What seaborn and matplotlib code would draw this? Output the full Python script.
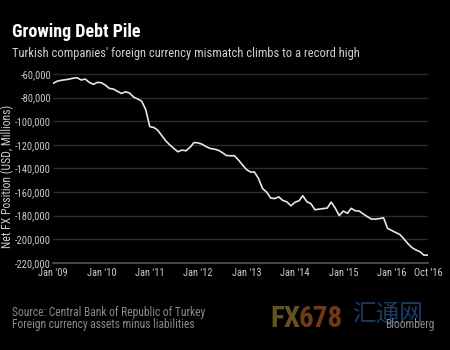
import pandas as pd
import numpy as np
import seaborn as sns
import matplotlib.pyplot as plt
from matplotlib.ticker import FuncFormatter

# monthly net FX position, Jan 2009 - Oct 2016 (USD millions)
start_month = '2009-01-01'
net_fx = [
    -67900, -66000, -65300, -64800, -64300, -63500, -63100, -65000, -64200, -67000,
    -68700, -67000, -67300, -69500, -72100, -72700, -74500, -76400, -75000, -76000,
    -79500, -81000, -83000, -90000, -104500, -105300, -107500, -112000, -116500, -120000,
    -123000, -125800, -124400, -125000, -122000, -118000, -118300, -119500, -121500, -123000,
    -123600, -124500, -126500, -129000, -129200, -129200, -132900, -137000, -141000, -143000,
    -143000, -148500, -157000, -160000, -165000, -165500, -164100, -167100, -168300, -171600,
    -168700, -167300, -163100, -168200, -169800, -175000, -174500, -174000, -173600, -168500,
    -173600, -179900, -176100, -178000, -173800, -175800, -176100, -178600, -180800, -182900,
    -182900, -182500, -181800, -190800, -192500, -194300, -195800, -199500, -203500, -207000,
    -209000, -210500, -213500, -213400,
]
y_ticks = [-60000, -80000, -100000, -120000, -140000, -160000, -180000, -200000, -220000]
x_tick_dates = ['2009-01-01', '2010-01-01', '2011-01-01', '2012-01-01', '2013-01-01',
                '2014-01-01', '2015-01-01', '2016-01-01', '2016-10-01']
x_tick_labels = ["Jan '09", "Jan '10", "Jan '11", "Jan '12", "Jan '13",
                 "Jan '14", "Jan '15", "Jan '16", "Oct '16"]

df = pd.DataFrame({
    'date': pd.date_range(start_month, periods=len(net_fx), freq='MS'),
    'value': net_fx,
})

sns.set_style('dark')
plt.rcParams['font.family'] = ['Roboto Condensed', 'DejaVu Sans']

fig = plt.figure(figsize=(4.5, 3.5), dpi=100, facecolor='black')
ax = fig.add_axes([0.118, 0.249, 0.833, 0.546], facecolor='black')

sns.lineplot(data=df, x='date', y='value', ax=ax, color='#e6e6e6', linewidth=1.2)

ax.set_ylim(-220000, -58000)
ax.set_xlim(pd.Timestamp('2009-01-01'), pd.Timestamp('2016-10-01'))
ax.set_yticks(y_ticks)
ax.yaxis.set_major_formatter(FuncFormatter(lambda v, p: f'{int(v):,}'))
ax.set_xticks(pd.to_datetime(x_tick_dates))
ax.set_xticklabels(x_tick_labels)

ax.grid(axis='y', color='#2b2b2b', linewidth=1.0)
ax.grid(axis='x', visible=False)
for s in ['top', 'right', 'left']:
    ax.spines[s].set_visible(False)
ax.spines['bottom'].set_color('#555555')
ax.spines['bottom'].set_linewidth(1.2)
ax.tick_params(axis='x', colors='#cccccc', labelsize=7.5, length=3, direction='in',
               color='#555555', pad=4)
ax.tick_params(axis='y', colors='#cccccc', labelsize=7.5, length=0, pad=1.5)
ax.set_xlabel('')
ax.set_ylabel('Net FX Position (USD, Millions)', color='#cccccc', fontsize=8.5)
ax.yaxis.set_label_coords(-0.103, 0.455)

fig.text(0.027, 0.895, 'Growing Debt Pile', color='white', fontsize=13, fontweight='bold',
         va='baseline')
fig.text(0.027, 0.838, "Turkish companies' foreign currency mismatch climbs to a record high",
         color='#d0d0d0', fontsize=9, va='baseline')
fig.text(0.027, 0.097, 'Source: Central Bank of Republic of Turkey', color='#8a8a8a',
         fontsize=8.3, va='baseline')
fig.text(0.027, 0.063, 'Foreign currency assets minus liabilities', color='#8a8a8a',
         fontsize=8.3, va='baseline')

# faint watermark
fig.text(0.600, 0.066, 'FX', color='#65501f', fontsize=21, fontweight='bold', va='baseline')
fig.text(0.664, 0.066, '678', color='#713a17', fontsize=21, fontweight='bold', va='baseline')
fig.text(0.782, 0.08, '汇通网', color='#1c3a66', fontsize=17,
         family=['Noto Sans CJK SC', 'DejaVu Sans'], va='baseline')
fig.text(0.856, 0.064, 'Bloomberg', color='#8a8a8a', fontsize=8.3, va='baseline')

fig.savefig('out.png', dpi=100, facecolor='black')
